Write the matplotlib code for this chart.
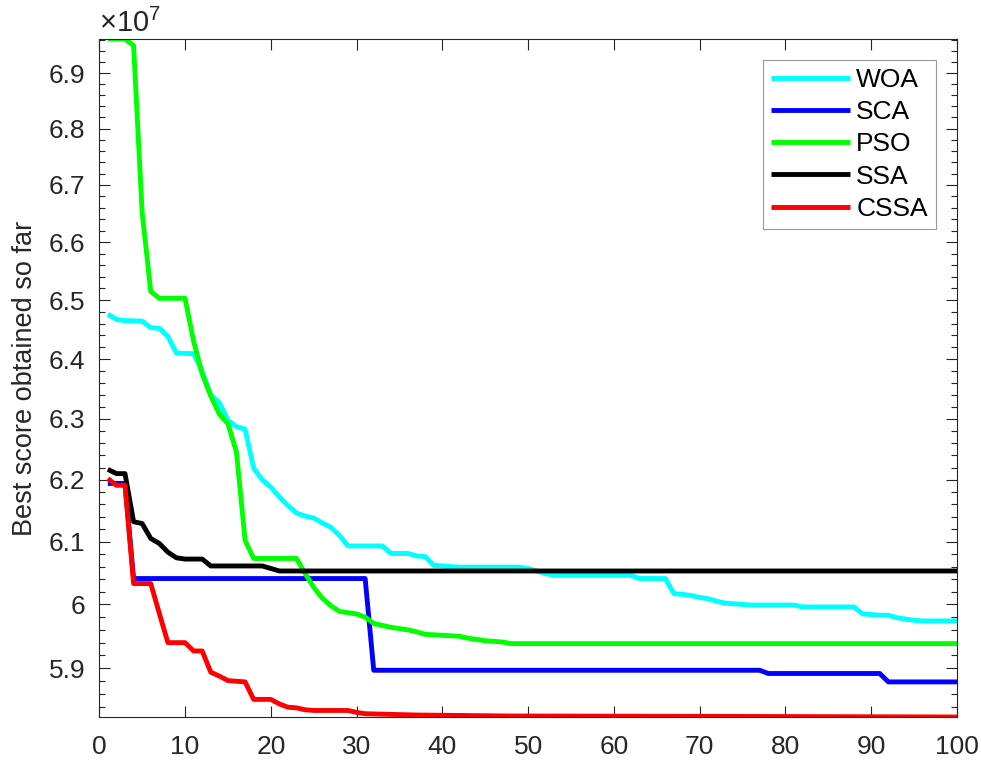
import matplotlib
matplotlib.use("Agg")
import matplotlib.pyplot as plt
import numpy as np
from matplotlib.ticker import FixedLocator, FixedFormatter, NullFormatter

plt.rcParams["font.family"] = ["Liberation Sans", "DejaVu Sans"]
plt.rcParams["mathtext.fontset"] = "custom"
plt.rcParams["mathtext.rm"] = "Liberation Sans"

# convergence curves, values in units of 1e7 (breakpoints per iteration)
woa_it = [1, 2, 3, 5, 6, 7, 8, 9, 11, 12, 13, 14, 15, 16, 17, 18, 19, 20, 21, 22,
          23, 24, 25, 26, 27, 28, 29, 33, 34, 36, 37, 38, 39, 40, 41, 42, 49, 50, 51, 52,
          53, 62, 63, 66, 67, 68, 69, 70, 71, 72, 73, 74, 75, 76, 81, 82, 88, 89, 90, 91,
          92, 93, 94, 95, 96, 100]
woa_val = [6.476, 6.467, 6.465, 6.464, 6.453, 6.452, 6.438, 6.410, 6.409, 6.379,
           6.340, 6.327, 6.298, 6.287, 6.283, 6.219, 6.200, 6.188, 6.172, 6.158,
           6.146, 6.141, 6.138, 6.130, 6.123, 6.110, 6.093, 6.093, 6.081, 6.081,
           6.077, 6.076, 6.062, 6.061, 6.060, 6.059, 6.059, 6.057, 6.053, 6.049,
           6.046, 6.046, 6.041, 6.041, 6.017, 6.016, 6.014, 6.011, 6.009, 6.005,
           6.002, 6.001, 6.000, 5.999, 5.999, 5.996, 5.996, 5.985, 5.984, 5.983,
           5.983, 5.979, 5.977, 5.975, 5.974, 5.974]

sca_it = [1, 3, 4, 31, 32, 77, 78, 91, 92, 100]
sca_val = [6.194, 6.194, 6.041, 6.041, 5.897, 5.897, 5.892, 5.892, 5.879, 5.879]

pso_it = [1, 2, 3, 4, 5, 6, 7, 10, 11, 12, 13, 14, 15, 16, 17, 18, 23, 24, 25, 26,
          27, 28, 29, 30, 31, 32, 33, 34, 35, 36, 37, 38, 42, 43, 44, 45, 46, 47, 48, 100]
pso_val = [6.962, 6.962, 6.962, 6.950, 6.651, 6.515, 6.503, 6.503, 6.430, 6.375,
           6.338, 6.308, 6.292, 6.245, 6.102, 6.073, 6.073, 6.049, 6.027, 6.010,
           5.998, 5.989, 5.987, 5.985, 5.980, 5.970, 5.967, 5.964, 5.962, 5.960,
           5.957, 5.953, 5.950, 5.947, 5.945, 5.943, 5.942, 5.941, 5.9385, 5.9385]

ssa_it = [1, 2, 3, 4, 5, 6, 7, 8, 9, 10, 12, 13, 19, 20, 21, 100]
ssa_val = [6.217, 6.210, 6.210, 6.132, 6.129, 6.105, 6.097, 6.083, 6.074, 6.072,
           6.072, 6.061, 6.061, 6.057, 6.053, 6.053]

cssa_it = [1, 2, 3, 4, 6, 7, 8, 10, 11, 12, 13, 14, 15, 16, 17, 18, 20, 21, 22, 23,
           24, 25, 29, 30, 31, 37, 48, 70, 100]
cssa_val = [6.202, 6.191, 6.191, 6.033, 6.033, 5.986, 5.940, 5.940, 5.927, 5.927,
            5.894, 5.888, 5.881, 5.880, 5.879, 5.852, 5.852, 5.845, 5.840, 5.839,
            5.836, 5.835, 5.835, 5.832, 5.830, 5.828, 5.8265, 5.826, 5.825]

names = ["WOA", "SCA", "PSO", "SSA", "CSSA"]
colors = ["#00FFFF", "#0000FF", "#00FF00", "#000000", "#FF0000"]
series = [(woa_it, woa_val), (sca_it, sca_val), (pso_it, pso_val),
          (ssa_it, ssa_val), (cssa_it, cssa_val)]

SCALE = 1e7
AX_COLOR = "#262626"
FS = 19

fig = plt.figure(figsize=(9.81, 7.6), dpi=100)
ax = fig.add_axes([0.1012, 0.0566, 0.8743, 0.8921])

for (it, val), name, col in zip(series, names, colors):
    ax.plot(it, np.array(val) * SCALE, color=col, lw=3.5, label=name,
            solid_joinstyle="round", solid_capstyle="butt")

all_vals = np.concatenate([v for _, v in series]) * SCALE
ax.set_yscale("log")
ax.set_xlim(0, 100)
ax.set_ylim(all_vals.min(), all_vals.max())

major = np.round(np.arange(5.9, 6.95, 0.1), 2)
minor = np.round(np.arange(5.82, 6.97, 0.02), 2)
minor = [m for m in minor if not np.any(np.isclose(m, major))]
ax.yaxis.set_major_locator(FixedLocator(major * SCALE))
ax.yaxis.set_major_formatter(FixedFormatter([f"{m:g}" for m in major]))
ax.yaxis.set_minor_locator(FixedLocator(np.array(minor) * SCALE))
ax.yaxis.set_minor_formatter(NullFormatter())
ax.set_xticks(np.arange(0, 101, 10))

ax.tick_params(axis="both", which="both", direction="in", top=True, right=True,
               colors=AX_COLOR, labelsize=FS, width=0.8)
ax.tick_params(axis="both", which="major", length=8)
ax.tick_params(axis="y", which="minor", length=4.5)
ax.tick_params(axis="x", which="major", pad=13)
ax.tick_params(axis="y", which="major", pad=10)
for s in ax.spines.values():
    s.set_color(AX_COLOR)
    s.set_linewidth(0.8)

ax.set_ylabel("Best score obtained so far", fontsize=19.5, color=AX_COLOR)
ax.yaxis.set_label_coords(-0.071, 0.5)

ax.text(0.0, 1.0103, r"$\times10^{7}$", transform=ax.transAxes, ha="left",
        va="baseline", fontsize=21, color=AX_COLOR)

leg = ax.legend(loc="upper right", fontsize=FS, frameon=True, fancybox=False,
                handlelength=3.0, handletextpad=0.23, labelspacing=0.31,
                borderpad=0.3, borderaxespad=0.8)
leg.get_frame().set_edgecolor("#7f7f7f")
leg.get_frame().set_linewidth(0.8)

fig.savefig("out.png", dpi=100)
